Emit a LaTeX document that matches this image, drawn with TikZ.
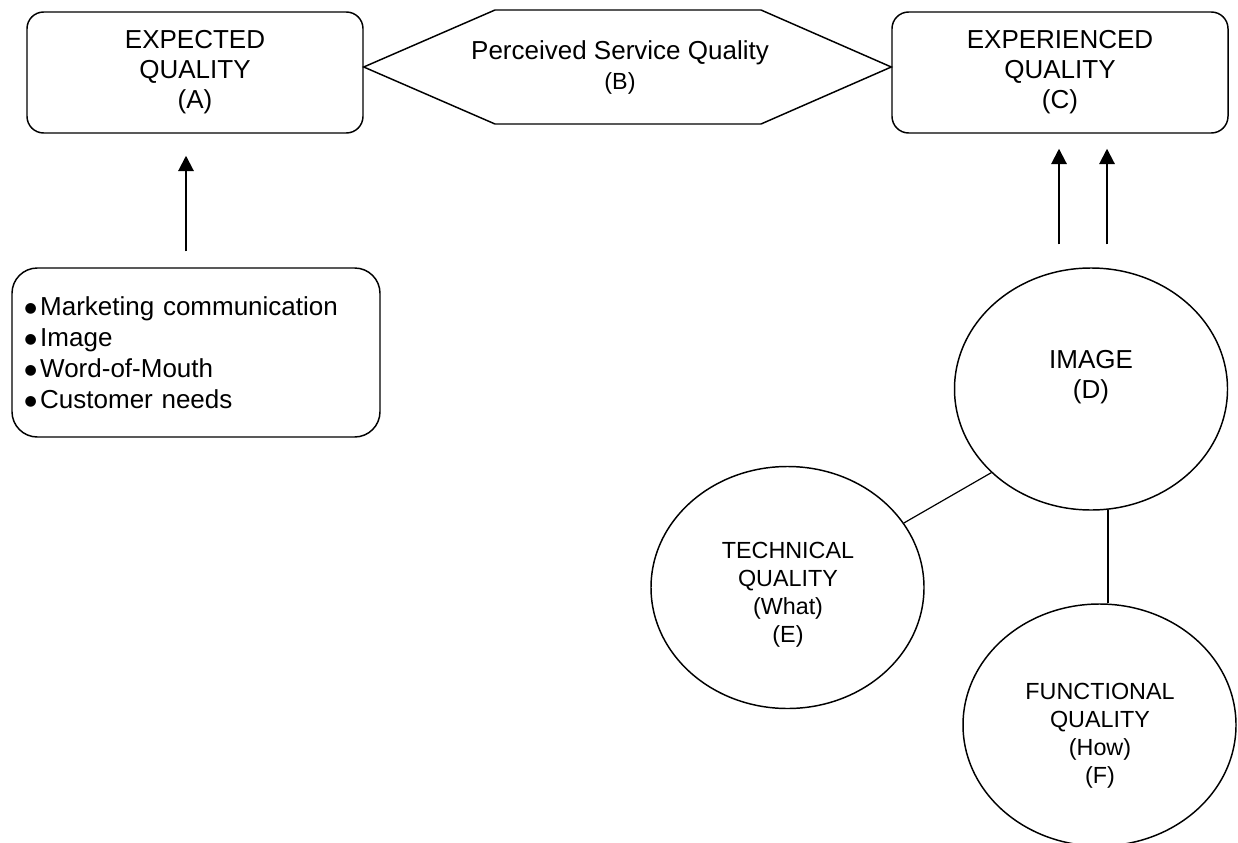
\documentclass[tikz,border=0pt]{standalone}
\usepackage{fontspec}
\setmainfont{Liberation Sans}
\newfontfamily\dejavu{DejaVu Sans}
\newcommand{\bulmark}{{\dejavu\fontsize{10.5}{10.5}\selectfont\raisebox{0.18em}{●}}\hspace{2.5pt}}
\usetikzlibrary{arrows.meta,shapes.geometric,calc}
\begin{document}
\begin{tikzpicture}[x=0.75pt,y=-0.75pt,
  qbox/.style={draw,line width=1.1pt,rounded corners=12.5pt,minimum width=252pt,minimum height=90.75pt,inner sep=0pt,align=center,font=\fontsize{19.5}{22.5}\selectfont},
  listbox/.style={draw,line width=1.1pt,rounded corners=19pt,minimum width=276pt,minimum height=126.75pt,text width=257pt,inner xsep=9.5pt,inner ysep=0pt,align=left,font=\fontsize{19.5}{23.25}\selectfont},
  oval/.style={draw,ellipse,line width=1.1pt,minimum width=204.75pt,minimum height=181.5pt,inner sep=0pt},
  bigtxt/.style={inner sep=0pt,align=center,font=\fontsize{19.5}{22.5}\selectfont},
  smalltxt/.style={inner sep=0pt,align=center,font=\fontsize{17.5}{21}\selectfont},
  hexa/.style={line width=1.1pt},
  link/.style={line width=0.9pt},
  arr/.style={line width=1.5pt,-{Triangle[width=11.5pt,length=11.5pt]}}
]
\useasboundingbox (0,0) rectangle (1238,842);

% top row
\node[qbox] (A) at (195,72.5) {EXPECTED\\QUALITY\\(A)};
\node[qbox] (C) at (1060,72.5) {EXPERIENCED\\QUALITY\\(C)};
\node[bigtxt] (B) at (620,67) {Perceived Service Quality\\{\fontsize{17.5}{22.5}\selectfont (B)}};
\draw[hexa] (A.east |- B.center) -- (495,10) -- (761,10) -- (C.west |- B.center)
  -- (761,124) -- (495,124) -- cycle;

% list box
\node[listbox] (L) at (196,352.5) {\bulmark Marketing communication\\
\bulmark Image\\
\bulmark Word-of-Mouth\\
\bulmark Customer needs};

% ellipses
\node[oval] (D) at (1091,389) {};
\node[bigtxt] (Dt) at (1091,377) {IMAGE\\(D)};
\node[oval] (E) at (787.5,587.5) {};
\node[smalltxt] (Et) at (788,595) {TECHNICAL\\QUALITY\\(What)\\(E)};
\node[oval] (F) at (1099.5,725) {};
\node[smalltxt] (Ft) at (1100,736) {FUNCTIONAL\\QUALITY\\(How)\\(F)};

% connectors
\draw[arr,shorten <=12pt,shorten >=16.5pt] ($(L.north)+(-10,0)$) -- ($(A.south)+(-9,0)$);
\draw[arr,shorten <=17.25pt,shorten >=11.25pt] ($(D.north)+(-32,0)$) -- ($(C.south)+(-1,0)$);
\draw[arr,shorten <=17.25pt,shorten >=11.25pt] ($(D.north)+(16,0)$) -- ($(C.south)+(47,0)$);
\draw[link] (D.220) -- (E.29);
\draw[link] (D.-82.5) -- (D.-82.5 |- F.north);
\end{tikzpicture}
\end{document}
